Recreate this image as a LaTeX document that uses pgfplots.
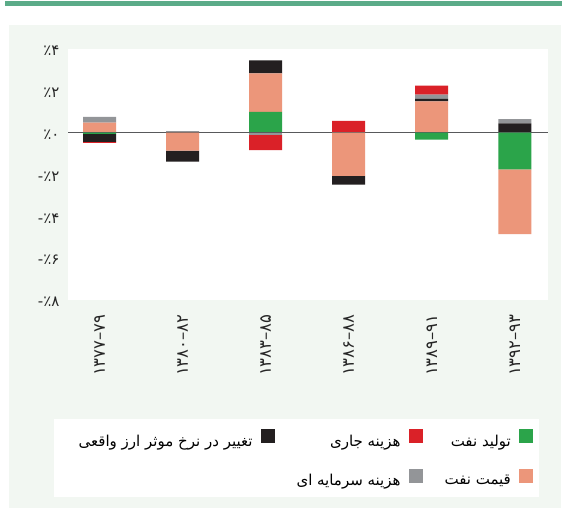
\documentclass[border=0pt]{standalone}
\usepackage{fontspec}
\usepackage{pgfplots}
\usepackage{pgfplotstable}
\pgfplotsset{compat=1.18}
\TeXXeTstate=1
\newfontfamily\af[Script=Arabic]{DejaVu Sans}

\definecolor{cgreen}{HTML}{2BA44A}
\definecolor{cred}{HTML}{DA2128}
\definecolor{cblack}{HTML}{231F20}
\definecolor{csalmon}{HTML}{EC967A}
\definecolor{cgray}{HTML}{939598}
\definecolor{cstripe}{HTML}{5BAB88}
\definecolor{cpanel}{HTML}{F2F7F2}
\definecolor{czero}{HTML}{58595B}

% contributions (percent): g = oil output, s = oil price, b = real eff. exchange rate,
% gy = capital spending, r = current spending
\pgfplotstableread{
x  g      s      b      gy     r
0  -0.06  0.48   -0.38  0.28   -0.05
1  0      -0.86  -0.52  0.07   0
2  0.99   1.85   0.62   -0.10  -0.73
3  0.03   -2.07  -0.41  0      0.53
4  -0.33  1.49   0.12   0.21   0.43
5  -1.76  -3.09  0.44   0.21   0
}\data

% digit runs set box by box so they keep left-to-right order
\newcommand{\yr}[2]{\mbox{#1}\mbox{–}\mbox{#2}}
\newcommand{\pc}[1]{\mbox{٪}\mbox{#1}}

\pgfplotsset{
  frame/.style={
    at={(68pt,210pt)}, anchor=south west,
    scale only axis, width=480pt, height=251pt,
    ybar stacked, bar width=33pt,
    xmin=-0.38, xmax=5.40,
    ymin=-8, ymax=4,
    axis line style={draw=none},
    tick style={draw=none},
  },
  seg/.style={forget plot, fill=#1, draw=none},
  sq/.style={fill=#1, draw=none, legend image code/.code={\fill (0pt,-2pt) rectangle (14pt,12pt);}},
}

\begin{document}
\begin{tikzpicture}
\useasboundingbox (0pt,0pt) rectangle (562pt,510pt);
\fill[white] (0pt,0pt) rectangle (562pt,510pt);
\fill[cstripe] (5pt,504pt) rectangle (562pt,509pt);
\fill[cpanel] (9pt,2pt) rectangle (561pt,485pt);
\fill[white] (54pt,13pt) rectangle (539pt,91pt);

% positive parts + labels + legend
\begin{axis}[
  frame,
  axis background/.style={fill=white},
  xtick={0,1,2,3,4,5},
  xticklabels={\yr{۱۳۷۷}{۷۹},\yr{۱۳۸۰}{۸۲},\yr{۱۳۸۳}{۸۵},\yr{۱۳۸۶}{۸۸},\yr{۱۳۸۹}{۹۱},\yr{۱۳۹۲}{۹۳}},
  xticklabel style={yshift=-11pt, rotate=90, anchor=east, font=\af\fontsize{16.5}{18}\selectfont, text=black!85},
  ytick={-8,-6,-4,-2,0,2,4},
  yticklabels={-\pc{۸},-\pc{۶},-\pc{۴},-\pc{۲},\pc{۰},\pc{۲},\pc{۴}},
  yticklabel style={anchor=east, font=\af\fontsize{15}{17}\selectfont, text=black!85, xshift=-5pt, yshift=-2pt},
  legend columns=3,
  legend plot pos=right,
  legend style={at={(axis description cs:0.969,-0.514)}, anchor=north east,
    draw=none, fill=none, inner sep=0pt,
    font=\af\fontsize{15}{17}\selectfont,
    /tikz/every odd column/.style={column sep=6pt},
    /tikz/every even column/.style={column sep=20pt},
    row sep=19pt, cells={anchor=east}},
]
\addplot[seg=cgreen] table[x=x, y expr={max(\thisrow{g},0)}] {\data};
\addplot[seg=csalmon] table[x=x, y expr={max(\thisrow{s},0)}] {\data};
\addplot[seg=cblack] table[x=x, y expr={max(\thisrow{b},0)}] {\data};
\addplot[seg=cgray] table[x=x, y expr={max(\thisrow{gy},0)}] {\data};
\addplot[seg=cred] table[x=x, y expr={max(\thisrow{r},0)}] {\data};

\addlegendimage{sq=cblack}
\addlegendentry{\beginR تغییر در نرخ موثر ارز واقعی\endR}
\addlegendimage{sq=cred}
\addlegendentry{\beginR هزینه جاری\endR}
\addlegendimage{sq=cgreen}
\addlegendentry{\beginR تولید نفت\endR}
\addlegendimage{empty legend}
\addlegendentry{}
\addlegendimage{sq=cgray}
\addlegendentry{\beginR هزینه سرمایه ای\endR}
\addlegendimage{sq=csalmon}
\addlegendentry{\beginR قیمت نفت\endR}
\end{axis}

% negative parts, same frame
\begin{axis}[frame, xtick=\empty, ytick=\empty]
\addplot[seg=cgreen] table[x=x, y expr={min(\thisrow{g},0)}] {\data};
\addplot[seg=csalmon] table[x=x, y expr={min(\thisrow{s},0)}] {\data};
\addplot[seg=cblack] table[x=x, y expr={min(\thisrow{b},0)}] {\data};
\addplot[seg=cgray] table[x=x, y expr={min(\thisrow{gy},0)}] {\data};
\addplot[seg=cred] table[x=x, y expr={min(\thisrow{r},0)}] {\data};
\draw[czero, line width=1pt] (axis cs:-0.38,0) -- (axis cs:5.40,0);
\end{axis}
\end{tikzpicture}
\end{document}
